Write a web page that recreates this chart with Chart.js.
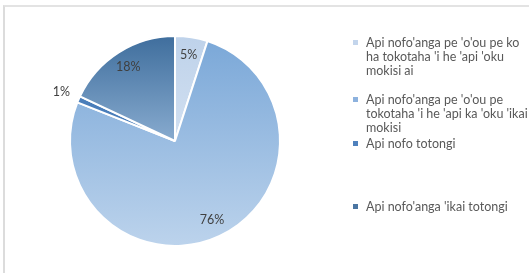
<!DOCTYPE html>
<html>
<head>
<meta charset="utf-8">
<script src="https://cdn.jsdelivr.net/npm/chart.js@4.4.1/dist/chart.umd.min.js"></script>
<style>
  html, body { margin: 0; padding: 0; background: #fff; overflow: hidden; }
  #wrap { position: relative; width: 529px; height: 273px; overflow: hidden; }
  #frame { position: absolute; left: 3px; top: 5px; width: 524px; height: 266px;
           border-top: 2px solid #e3e3e3; border-left: 2px solid #dcdcdc; }
  #c-pie { position: absolute; left: 0; top: 0; }
  #legend { position: absolute; left: 0; top: 0; font-family: Lato, "Liberation Sans", sans-serif;
            font-size: 12.5px; color: #595959; line-height: 14px; }
  .item { position: absolute; left: 353px; white-space: nowrap; }
  .item i { position: absolute; left: 0; top: 4px; width: 5px; height: 5px; }
  .item span { position: absolute; left: 13px; top: 0; }
</style>
</head>
<body>
<div id="wrap">
  <div id="frame"></div>
  <canvas id="c-pie" width="529" height="273"></canvas>
  <div id="legend"></div>
</div>
<script>
// data
const labels = [
    ["Api nofo'anga pe 'o'ou pe ko", "ha tokotaha 'i he 'api 'oku", "mokisi ai"],
    ["Api nofo'anga pe 'o'ou pe", "tokotaha 'i he 'api ka 'oku 'ikai", "mokisi"],
    ["Api nofo totongi"],
    ["Api nofo'anga 'ikai totongi"]
];
const values = [5, 76, 1, 18];

// gradient colours per slice (top -> bottom of the slice)
const gradTop = ['#bed2ea', '#7ba8d8', '#4a7eba', '#3f6e9d'];
const gradBottom = ['#d2e0f1', '#bcd3ec', '#4a7eba', '#88abcf'];
const markColors = ['#c3d5ec', '#8db2de', '#4f81bd', '#4a75a2'];
const legendTops = [36, 93, 137, 200];

const total = values.reduce((a, b) => a + b, 0);

// y-extent of a slice, used to stretch its gradient like Excel does
function sliceExtent(i, cy, r) {
    let before = 0;
    for (let k = 0; k < i; k++) before += values[k];
    const a0 = -Math.PI / 2 + before / total * Math.PI * 2;
    const a1 = a0 + values[i] / total * Math.PI * 2;
    let ys = [cy, cy + r * Math.sin(a0), cy + r * Math.sin(a1)];
    for (const q of [-Math.PI / 2, Math.PI / 2, Math.PI * 1.5]) {
        if (q >= a0 && q <= a1) ys.push(cy + r * Math.sin(q));
    }
    return [Math.min(...ys), Math.max(...ys)];
}

function sliceFill(ctx) {
    const chart = ctx.chart;
    const area = chart.chartArea;
    if (!area) return gradTop[ctx.dataIndex];
    const cy = (area.top + area.bottom) / 2;
    const [y0, y1] = sliceExtent(ctx.dataIndex, cy, 105);
    const g = chart.ctx.createLinearGradient(0, y0, 0, y1);
    g.addColorStop(0, gradTop[ctx.dataIndex]);
    g.addColorStop(1, gradBottom[ctx.dataIndex]);
    return g;
}

const pctLabels = {
    id: 'pctLabels',
    afterDatasetsDraw(chart) {
        const c = chart.ctx;
        const arcs = chart.getDatasetMeta(0).data;
        c.save();
        c.font = '12.5px Lato, "Liberation Sans", sans-serif';
        c.fillStyle = '#404040';
        c.textAlign = 'center';
        c.textBaseline = 'middle';
        arcs.forEach((arc, i) => {
            const mid = (arc.startAngle + arc.endAngle) / 2;
            const f = values[i] < 3 ? 1.18 : 0.83;
            const x = arc.x + Math.cos(mid) * arc.outerRadius * f;
            const y = arc.y + Math.sin(mid) * arc.outerRadius * f;
            c.fillText(values[i] + '%', x, y);
        });
        c.restore();
    }
};

new Chart(document.getElementById('c-pie'), {
    type: 'pie',
    data: {
        labels: labels.map(l => l.join(' ')),
        datasets: [{
            data: values,
            backgroundColor: sliceFill,
            borderColor: '#ffffff',
            borderWidth: 2,
            hoverOffset: 0
        }]
    },
    options: {
        responsive: false,
        animation: false,
        events: [],
        radius: 105,
        layout: { padding: { left: 65, right: 244, top: 30, bottom: 21 } },
        plugins: { legend: { display: false }, tooltip: { enabled: false } }
    },
    plugins: [pctLabels]
});

// legend in HTML (multi-line labels)
const leg = document.getElementById('legend');
labels.forEach((lines, i) => {
    const d = document.createElement('div');
    d.className = 'item';
    d.style.top = legendTops[i] + 'px';
    const m = document.createElement('i');
    m.style.background = markColors[i];
    const s = document.createElement('span');
    s.innerHTML = lines.join('<br>');
    d.appendChild(m);
    d.appendChild(s);
    leg.appendChild(d);
});
</script>
</body>
</html>
